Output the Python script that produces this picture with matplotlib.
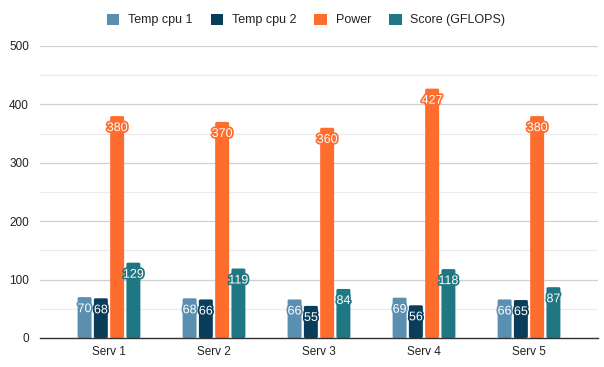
import matplotlib
matplotlib.use("Agg")
import matplotlib.pyplot as plt
import matplotlib.patheffects as pe
from matplotlib.patches import FancyBboxPatch, Patch
import numpy as np

# -------------------------
# Data
# -------------------------
servers = ["Serv 1", "Serv 2", "Serv 3", "Serv 4", "Serv 5"]
temp_cpu1 = [70, 68, 66, 69, 66]
temp_cpu2 = [68, 66, 55, 56, 65]
power = [380, 370, 360, 427, 380]
score = [129, 119, 84, 118, 87]

series_names = ["Temp cpu 1", "Temp cpu 2", "Power", "Score (GFLOPS)"]
series_values = [temp_cpu1, temp_cpu2, power, score]
colors = ["#5a8fb0", "#0a3d5a", "#ff6d2e", "#1e7782"]

plt.rcParams["font.family"] = ["Liberation Sans", "DejaVu Sans"]

fig = plt.figure(figsize=(6.04, 3.67), dpi=100)
ax = fig.add_axes([40 / 604, 29 / 367, 558 / 604, 292 / 367])

xmin, xmax = -0.657, len(servers) - 1 + 0.657
ymax = 500
ax.set_xlim(xmin, xmax)
ax.set_ylim(0, ymax)

x = np.arange(len(servers))
width = 0.133
step = 0.155
offsets = (np.arange(4) - 1.5) * step

# aspect so the rounded corners come out circular in pixels
px_per_x = 558 / (xmax - xmin)
px_per_y = 292 / ymax
aspect = px_per_x / px_per_y
rsize = 1.5 / px_per_x

for name, vals, col, off in zip(series_names, series_values, colors, offsets):
    bars = ax.bar(x + off, vals, width, color=col, zorder=3)
    for b, v in zip(bars, vals):
        rounded = FancyBboxPatch((b.get_x(), 0), b.get_width(), v,
                                 boxstyle=f"round,pad=0,rounding_size={rsize}",
                                 mutation_aspect=aspect,
                                 facecolor=col, edgecolor="none", zorder=3)
        ax.add_patch(rounded)
        b.remove()
        ax.annotate(str(v), (b.get_x() + b.get_width() / 2, v),
                    xytext=(0, -12), textcoords="offset pixels",
                    ha="center", va="center", fontsize=9, color="white",
                    zorder=5,
                    path_effects=[pe.withStroke(linewidth=2.5, foreground=col)])

ax.set_xlim(xmin, xmax)
ax.set_ylim(0, ymax)
ax.set_yticks(range(0, 501, 100))
ax.set_yticks(range(50, 500, 100), minor=True)
ax.set_xticks(x)
ax.set_xticklabels(servers)
ax.grid(axis="y", which="major", color="#d0d0d0", linewidth=0.9, zorder=0)
ax.grid(axis="y", which="minor", color="#ebebeb", linewidth=0.8, zorder=0)
ax.tick_params(axis="both", which="both", length=0, labelsize=8.5, colors="#222222")
ax.tick_params(axis="y", pad=8)
ax.tick_params(axis="x", pad=6)
for s in ["top", "right", "left"]:
    ax.spines[s].set_visible(False)
ax.spines["bottom"].set_color("#333333")
ax.spines["bottom"].set_linewidth(1.0)
ax.spines["bottom"].set_zorder(4)

handles = [Patch(facecolor=c, label=n) for n, c in zip(series_names, colors)]
fig.legend(handles=handles, loc="center", bbox_to_anchor=(306 / 604, 1 - 20 / 367),
           ncol=4, frameon=False, fontsize=9, handlelength=1.0, handleheight=1.0,
           columnspacing=1.45, handletextpad=0.7, labelcolor="#222222", borderpad=0)

plt.savefig("out.png", dpi=100)
